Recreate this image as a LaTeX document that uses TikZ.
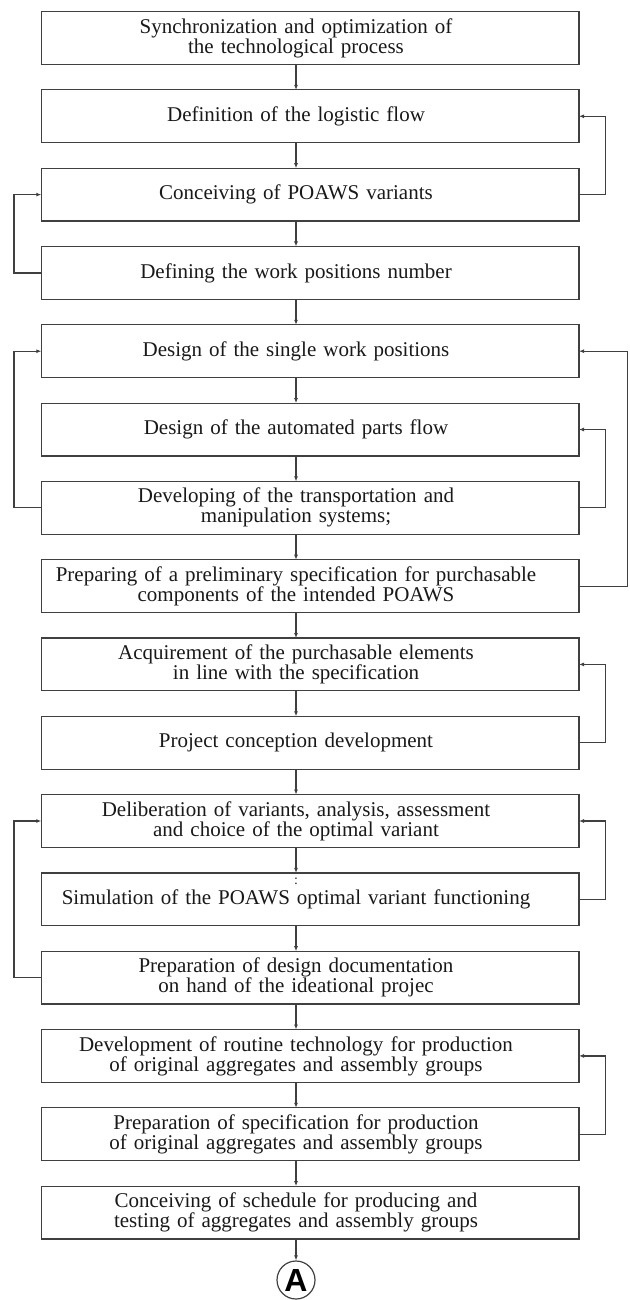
\documentclass[tikz,border=0pt]{standalone}
\usepackage{fontspec}
\setmainfont{Liberation Serif}
\setsansfont{Liberation Sans}
\usetikzlibrary{arrows.meta}

\tikzset{
  box/.style={text width=254.3pt, align=center, inner xsep=0pt, inner ysep=0pt,
    minimum height=26pt, font=\fontsize{10.5}{10}\selectfont, text=black!90},
  frame/.style={draw=black!75, line width=0.6pt},
  flow/.style={draw=black!75, line width=0.6pt, -{Latex[length=2.5pt,width=2pt]}},
}

\begin{document}
\begin{tikzpicture}[x=0.5pt, y=-0.5pt]
    \useasboundingbox (0,0) rectangle (629,1300);
    % right edge of the frames and the lines of the loops
    \coordinate (redge) at (579,0);
    \coordinate (rloop) at (605.5,0);
    \coordinate (rfar) at (627.5,0);
    \coordinate (lloop) at (14,0);
    % the steps
    \node[box] (b1) at (296,38) {Synchronization and optimization of\\the technological process};
    \node[box] (b2) at (296,116.3) {Definition of the logistic flow};
    \node[box] (b3) at (296,194.6) {Conceiving of POAWS variants};
    \node[box] (b4) at (296,272.9) {Defining the work positions number};
    \node[box] (b5) at (296,351.2) {Design of the single work positions};
    \node[box] (b6) at (296,429.5) {Design of the automated parts flow};
    \node[box] (b7) at (296,507.8) {Developing of the transportation and\\manipulation systems;};
    \node[box] (b8) at (296,586.1) {Preparing of a preliminary specification for purchasable\\components of the intended POAWS};
    \node[box] (b9) at (296,664.4) {Acquirement of the purchasable elements\\in line with the specification};
    \node[box] (b10) at (296,742.7) {Project conception development};
    \node[box] (b11) at (296,821) {Deliberation of variants, analysis, assessment\\and choice of the optimal variant};
    \node[box] (b12) at (296,899.3) {Simulation of the POAWS optimal variant functioning};
    \node[box] (b13) at (296,977.6) {Preparation of design documentation\\on hand of the ideational projec};
    \node[box] (b14) at (296,1055.9) {Development of routine technology for production\\of original aggregates and assembly groups};
    \node[box] (b15) at (296,1134.2) {Preparation of specification for production\\of original aggregates and assembly groups};
    \node[box] (b16) at (296,1212.5) {Conceiving of schedule for producing and\\testing of aggregates and assembly groups};
    \node[font=\fontsize{7}{7}\selectfont, text=black!85, inner sep=0pt] (dots) at (296,881) {:};
    \node[draw=black!75, line width=0.6pt, circle, minimum size=19pt, inner sep=0pt,
        font=\sffamily\bfseries\fontsize{16}{16}\selectfont] (A) at (296,1280) {A};
    % frames
    \foreach \i in {1,...,16}
        \draw[frame] (b\i.north west) rectangle (b\i.south east -| redge);
    % main flow
    \foreach \i [evaluate=\i as \j using int(\i+1)] in {1,...,15}
        \draw[flow] (b\i) -- (b\j);
    \draw[flow] (b16) -- (A);
    % loops on the right
    \draw[flow] (b3.east -| redge) -- (b3.east -| rloop) |- (b2.east -| redge);
    \draw[flow] (b8.east -| redge) -- (b8.east -| rfar) |- (b5.east -| redge);
    \draw[flow] (b7.east -| redge) -- (b7.east -| rloop) |- (b6.east -| redge);
    \draw[flow] (b10.east -| redge) -- (b10.east -| rloop) |- (b9.east -| redge);
    \draw[flow] (b12.east -| redge) -- (b12.east -| rloop) |- (b11.east -| redge);
    \draw[flow] (b15.east -| redge) -- (b15.east -| rloop) |- (b14.east -| redge);
    % loops on the left
    \draw[flow] (b4.west) -- (b4.west -| lloop) |- (b3.west);
    \draw[flow] (b7.west) -- (b7.west -| lloop) |- (b5.west);
    \draw[flow] (b13.west) -- (b13.west -| lloop) |- (b11.west);
\end{tikzpicture}
\end{document}
